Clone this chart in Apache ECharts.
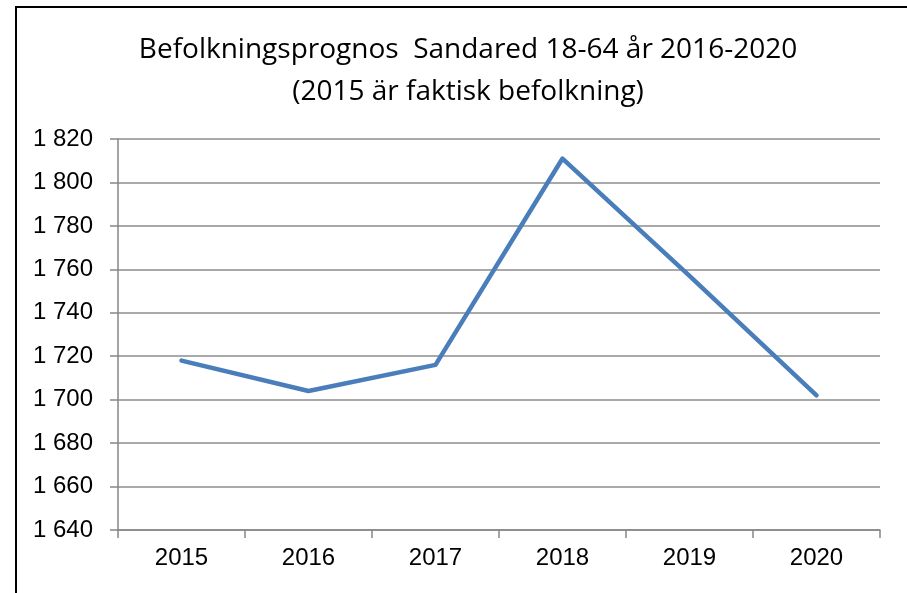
<!DOCTYPE html>
<html>
<head>
<meta charset="utf-8">
<script src="https://cdn.jsdelivr.net/npm/echarts@6/dist/echarts.min.js"></script>
<style>
  html, body { margin: 0; padding: 0; background: #fff; }
  #main { width: 907px; height: 593px; }
</style>
</head>
<body>
<div id="main"></div>
<script>
// år och befolkning 18-64
var years = ['2015', '2016', '2017', '2018', '2019', '2020'];
var befolkning = [1718, 1704, 1716, 1811, 1757, 1702];

var titleLines = ['Befolkningsprognos  Sandared 18-64 år 2016-2020', '(2015 är faktisk befolkning)'];

var fontName = '"Liberation Sans", Arial, sans-serif';

var option = {
    backgroundColor: '#FFFFFF',
    animation: false,
    title: {
        text: titleLines.join('\n'),
        left: 463,
        top: 24,
        textAlign: 'center',
        textStyle: {
            fontFamily: '"Open Sans", ' + fontName,
            fontSize: 28,
            fontWeight: 'normal',
            color: '#000',
            lineHeight: 42
        }
    },
    // ram runt diagrammet
    graphic: [{
        type: 'rect',
        shape: { x: 16, y: 7, width: 1000, height: 1000 },
        style: { fill: 'none', stroke: '#000', lineWidth: 2 }
    }],
    grid: {
        left: 118,
        right: 27,
        top: 139,
        bottom: 63
    },
    xAxis: {
        type: 'category',
        data: years,
        boundaryGap: true,
        axisLine: { lineStyle: { color: '#868686', width: 1.5 } },
        axisTick: { show: true, length: 8, inside: false, alignWithLabel: false, lineStyle: { color: '#868686', width: 1.5 } },
        axisLabel: {
            margin: 16,
            fontFamily: fontName,
            fontSize: 24,
            color: '#000'
        },
        splitLine: { show: false }
    },
    yAxis: {
        type: 'value',
        min: 1640,
        max: 1820,
        interval: 20,
        axisLine: { show: true, lineStyle: { color: '#868686', width: 1.5 } },
        axisTick: { show: true, length: 8, lineStyle: { color: '#868686', width: 1.5 } },
        axisLabel: {
            margin: 25,
            fontFamily: fontName,
            fontSize: 24,
            color: '#000',
            formatter: function (v) {
                var s = String(v);
                return s.length > 3 ? s.slice(0, s.length - 3) + ' ' + s.slice(-3) : s;
            }
        },
        splitLine: { show: true, lineStyle: { color: '#8c8c8c', width: 1.5 } }
    },
    series: [{
        name: 'Befolkning',
        type: 'line',
        data: befolkning,
        symbol: 'none',
        lineStyle: { color: '#4a7ebb', width: 4.5, cap: 'round', join: 'round' },
        itemStyle: { color: '#4a7ebb' }
    }]
};

var myChart = echarts.init(document.getElementById('main'));
myChart.setOption(option);
</script>
</body>
</html>
